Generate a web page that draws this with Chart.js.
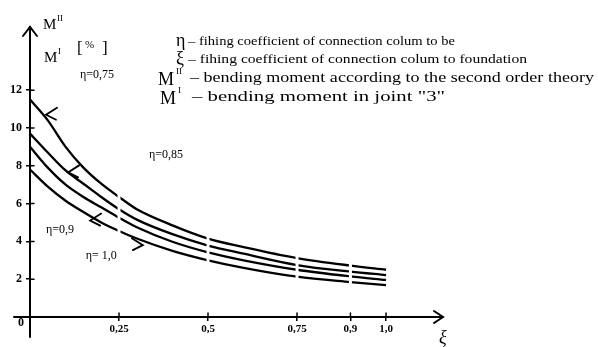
<!DOCTYPE html>
<html>
<head>
<meta charset="utf-8">
<script src="https://cdn.jsdelivr.net/npm/chart.js@4.4.0/dist/chart.umd.min.js"></script>
<style>
  html, body { margin: 0; padding: 0; background: #fff; }
  #wrap { width: 598px; height: 347px; position: relative; }
</style>
</head>
<body>
<div id="wrap"><canvas id="chart-moment"></canvas></div>
<script>
// values
var xiValues = [0, 0.05, 0.1, 0.15, 0.2, 0.25, 0.3, 0.4, 0.5, 0.6, 0.75, 0.9, 1.0];
var eta075 = [11.5, 10.4, 9.0, 7.9, 7.05, 6.35, 5.7, 4.85, 4.15, 3.7, 3.12, 2.72, 2.5];
var eta085 = [9.7, 8.7, 7.75, 7.05, 6.35, 5.7, 5.15, 4.38, 3.78, 3.35, 2.75, 2.4, 2.22];
var eta090 = [9.0, 7.9, 7.0, 6.35, 5.8, 5.25, 4.75, 3.98, 3.42, 3.0, 2.5, 2.15, 1.96];
var eta100 = [7.8, 6.9, 6.15, 5.55, 5.0, 4.55, 4.15, 3.5, 3.0, 2.6, 2.13, 1.85, 1.69];
var seriesLabels = ["η=0,75", "η=0,85", "η=0,9", "η= 1,0"];

var xTickValues = [0.25, 0.5, 0.75, 0.9, 1.0];
var xTickLabels = ["0,25", "0,5", "0,75", "0,9", "1,0"];
var yTickValues = [2, 4, 6, 8, 10, 12];
var yTickLabels = ["2", "4", "6", "8", "10", "12"];
var originLabel = "0";
var breakValues = [0.25, 0.5, 0.75, 0.9];

var serif = "'Liberation Serif', 'DejaVu Serif', serif";

// curve labels and little arrow marks, in data units
var curveNotes = [
  { text: seriesLabels[0], x: 0.188, y: 12.8 },
  { text: seriesLabels[1], x: 0.382, y: 8.57 },
  { text: seriesLabels[2], x: 0.084, y: 4.6 },
  { text: seriesLabels[3], x: 0.2, y: 3.23 }
];
var arrowMarks = [
  { x: 0.045, y: 10.7, dir: -1 },
  { x: 0.107, y: 7.65, dir: -1 },
  { x: 0.169, y: 5.1, dir: -1 },
  { x: 0.317, y: 3.8, dir: 1 }
];

// explanation lines: symbol, superscript, text
var notes = [
  { sym: "η", sup: "", text: "– fihing coefficient of connection colum to be", size: 13.5, width: 267 },
  { sym: "ξ", sup: "", text: "– fihing coefficient of connection colum to foundation", size: 13.5, width: 339 },
  { sym: "M", sup: "II", text: "– bending moment according to the second order theory", size: 15, width: 404 },
  { sym: "M", sup: "I", text: "– bending moment in joint \"3\"", size: 15, width: 253 }
];

function toPoints(ys) {
  return xiValues.map(function (x, i) {
    return { x: x, y: ys[i] };
  });
}

function lineSet(label, ys) {
  return {
    label: label,
    data: toPoints(ys),
    borderColor: "#000",
    borderWidth: 2.3,
    pointRadius: 0,
    tension: 0.4,
    cubicInterpolationMode: "monotone",
    fill: false,
    clip: false
  };
}

function fitText(ctx, text, x, y, width) {
  var w = ctx.measureText(text).width;
  ctx.save();
  ctx.translate(x, y);
  ctx.scale(width / w, 1);
  ctx.fillText(text, 0, 0);
  ctx.restore();
}

var decorPlugin = {
  id: "decor",
  afterDatasetsDraw: function (chart) {
    var ctx = chart.ctx;
    var xs = chart.scales.x;
    ctx.save();
    ctx.fillStyle = "#fff";
    breakValues.forEach(function (b) {
      var idx = xiValues.indexOf(b);
      var top = Infinity, bot = -Infinity;
      chart.data.datasets.forEach(function (ds, di) {
        var p = chart.getDatasetMeta(di).data[idx];
        top = Math.min(top, p.y);
        bot = Math.max(bot, p.y);
      });
      var px = xs.getPixelForValue(b);
      ctx.fillRect(px - 1.5, top - 4, 3, bot - top + 8);
    });
    ctx.restore();
  },
  afterDraw: function (chart) {
    var ctx = chart.ctx;
    var xs = chart.scales.x, ys = chart.scales.y;
    var area = chart.chartArea;
    var x0 = area.left, y0 = area.bottom;
    ctx.save();
    ctx.strokeStyle = "#000";
    ctx.fillStyle = "#000";
    ctx.lineWidth = 2;
    ctx.lineCap = "round";

    // axes run a bit past the origin, with arrow heads at the far ends
    ctx.beginPath();
    ctx.moveTo(x0 - 16, y0);
    ctx.lineTo(x0, y0);
    ctx.moveTo(x0, y0);
    ctx.lineTo(x0, y0 + 20);
    ctx.moveTo(x0 - 7, area.top + 9);
    ctx.lineTo(x0, area.top);
    ctx.lineTo(x0 + 7, area.top + 9);
    ctx.moveTo(area.right - 9, y0 - 6);
    ctx.lineTo(area.right, y0);
    ctx.lineTo(area.right - 9, y0 + 6);
    ctx.stroke();

    // inner halves of tick marks
    ctx.lineWidth = 1.5;
    ctx.beginPath();
    yTickValues.forEach(function (v) {
      var py = ys.getPixelForValue(v);
      ctx.moveTo(x0, py);
      ctx.lineTo(x0 + 4, py);
    });
    xTickValues.forEach(function (v) {
      var px = xs.getPixelForValue(v);
      ctx.moveTo(px, y0);
      ctx.lineTo(px, y0 - 4);
    });
    ctx.stroke();

    // arrow marks on curves
    ctx.lineWidth = 1.8;
    arrowMarks.forEach(function (a) {
      var px = xs.getPixelForValue(a.x), py = ys.getPixelForValue(a.y);
      var d = -a.dir;
      ctx.beginPath();
      ctx.moveTo(px + d * 11, py - 7);
      ctx.lineTo(px, py);
      ctx.lineTo(px + d * 10, py + 5);
      ctx.stroke();
    });

    // curve labels
    ctx.textAlign = "center";
    ctx.textBaseline = "middle";
    ctx.font = "12px " + serif;
    curveNotes.forEach(function (n) {
      ctx.fillText(n.text, xs.getPixelForValue(n.x), ys.getPixelForValue(n.y));
    });
    ctx.font = "bold 12px " + serif;
    ctx.fillText(originLabel, x0 - 9, y0 + 6);

    // axis titles
    ctx.textAlign = "left";
    ctx.textBaseline = "alphabetic";
    ctx.font = "15px " + serif;
    ctx.fillText("M", 43, 29);
    ctx.fillText("M", 44, 62);
    ctx.font = "9px " + serif;
    ctx.fillText("II", 57, 21);
    ctx.fillText("I", 58, 54);
    ctx.font = "17px " + serif;
    ctx.fillText("[", 77, 53);
    ctx.fillText("]", 102, 53);
    ctx.font = "11px " + serif;
    ctx.fillText("%", 85, 48);
    ctx.font = "italic 18px " + serif;
    ctx.fillText("ξ", area.right - 4, 343);

    // explanation block
    var symX = [176, 176, 158, 160];
    var supX = [0, 0, 176, 178];
    var textX = [188, 188, 190, 192];
    var base = [45, 63, 82, 101];
    notes.forEach(function (n, i) {
      ctx.font = "18px " + serif;
      ctx.fillText(n.sym, symX[i], base[i] + (n.sup ? 3 : 1));
      if (n.sup) {
        ctx.font = "9px " + serif;
        ctx.fillText(n.sup, supX[i], base[i] - 8);
      }
      ctx.font = n.size + "px " + serif;
      fitText(ctx, n.text, textX[i], base[i], n.width);
    });
    ctx.restore();
  }
};

var ctx = document.getElementById("chart-moment").getContext("2d");
new Chart(ctx, {
  type: "line",
  data: {
    datasets: [
      lineSet(seriesLabels[0], eta075),
      lineSet(seriesLabels[1], eta085),
      lineSet(seriesLabels[2], eta090),
      lineSet(seriesLabels[3], eta100)
    ]
  },
  options: {
    responsive: true,
    maintainAspectRatio: false,
    animation: false,
    layout: { padding: { left: 0, right: 155, top: 27, bottom: 0 } },
    plugins: {
      legend: { display: false },
      tooltip: { enabled: false }
    },
    scales: {
      x: {
        type: "linear",
        min: 0,
        max: 1.16,
        position: "bottom",
        afterFit: function (scale) { scale.height = 30; },
        afterBuildTicks: function (scale) {
          scale.ticks = xTickValues.map(function (v) { return { value: v }; });
        },
        ticks: {
          color: "#000",
          padding: 2,
          maxRotation: 0,
          font: { family: serif, size: 11, weight: "bold" },
          callback: function (value) {
            var i = xTickValues.indexOf(value);
            return i >= 0 ? xTickLabels[i] : "";
          }
        },
        grid: { display: true, drawOnChartArea: false, drawTicks: true, tickLength: 4, color: "#000", lineWidth: 1.5 },
        border: { display: true, color: "#000", width: 2 }
      },
      y: {
        type: "linear",
        min: 0,
        max: 15.34,
        position: "left",
        afterFit: function (scale) { scale.width = 30; },
        afterBuildTicks: function (scale) {
          scale.ticks = yTickValues.map(function (v) { return { value: v }; });
        },
        ticks: {
          color: "#000",
          padding: 4,
          font: { family: serif, size: 12, weight: "bold" },
          callback: function (value) {
            var i = yTickValues.indexOf(value);
            return i >= 0 ? yTickLabels[i] : "";
          }
        },
        grid: { display: true, drawOnChartArea: false, drawTicks: true, tickLength: 4, color: "#000", lineWidth: 1.5 },
        border: { display: true, color: "#000", width: 2 }
      }
    }
  },
  plugins: [decorPlugin]
});
</script>
</body>
</html>
